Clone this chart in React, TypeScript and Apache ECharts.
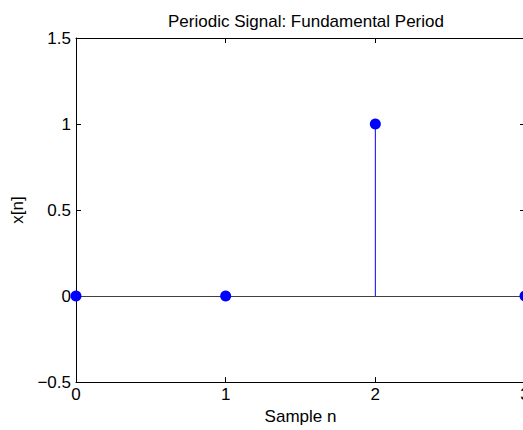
import React, { useEffect, useRef } from "react";
import * as echarts from "echarts";

const titleText = "Periodic Signal: Fundamental Period";
const xName = "Sample n";
const yName = "x[n]";
const samples = [0, 1, 2, 3];
const values = [0, 0, 1, 0];
const xRange = [0, 3];
const yRange = [-0.5, 1.5];
const yStep = 0.5;
const xStep = 1;

const FONT = "'Liberation Sans', Arial, Helvetica, sans-serif";

export default function App() {
  const ref = useRef<HTMLDivElement>(null);
  useEffect(() => {
    if (!ref.current) return;
    const chart = echarts.init(ref.current, null, { renderer: "svg" });
    const pts = samples.map((s, i) => [s, values[i]]);
    const axisCommon = {
      type: "value" as const,
      axisLine: { show: true, onZero: false, lineStyle: { color: "#000", width: 1 } },
      axisTick: { show: true, inside: true, length: 5, lineStyle: { color: "#000", width: 1 } },
      splitLine: { show: false },
    };
    chart.setOption({
      animation: false,
      backgroundColor: "#fff",
      textStyle: { fontFamily: FONT },
      title: {
        text: titleText,
        left: 301,
        top: 8,
        textAlign: "center",
        textStyle: { fontFamily: FONT, fontSize: 17, fontWeight: "normal", color: "#000" },
      },
      grid: { left: 76, right: 15, top: 38, bottom: 47, containLabel: false },
      xAxis: [
        {
          ...axisCommon,
          position: "bottom",
          min: xRange[0],
          max: xRange[1],
          interval: xStep,
          axisLabel: { color: "#000", fontSize: 17, fontFamily: FONT, margin: 4 },
          name: xName,
          nameLocation: "middle",
          nameGap: 24,
          nameTextStyle: { color: "#000", fontSize: 17, fontFamily: FONT },
        },
        {
          ...axisCommon,
          position: "top",
          min: xRange[0],
          max: xRange[1],
          interval: xStep,
          axisLabel: { show: false },
        },
      ],
      yAxis: [
        {
          ...axisCommon,
          position: "left",
          min: yRange[0],
          max: yRange[1],
          interval: yStep,
          axisLabel: {
            color: "#000",
            fontSize: 17,
            fontFamily: FONT,
            margin: 5,
            formatter: (v: number) => String(v).replace("-", "\u2212"),
          },
          name: yName,
          nameLocation: "middle",
          nameGap: 50,
          nameRotate: 90,
          nameTextStyle: { color: "#000", fontSize: 17, fontFamily: FONT },
        },
        {
          ...axisCommon,
          position: "right",
          min: yRange[0],
          max: yRange[1],
          interval: yStep,
          axisLabel: { show: false },
        },
      ],
      series: [
        {
          type: "bar",
          data: pts,
          barWidth: 1,
          itemStyle: { color: "#0000ff", opacity: 1 },
          z: 3,
          markLine: {
            silent: true,
            symbol: "none",
            label: { show: false },
            lineStyle: { color: "#404040", width: 1, type: "solid" },
            data: [{ yAxis: 0 }],
          },
        },
        {
          type: "scatter",
          data: pts,
          symbol: "circle",
          symbolSize: 11,
          clip: false,
          itemStyle: { color: "#0000ff", opacity: 1 },
          z: 5,
        },
      ],
    });
    return () => chart.dispose();
  }, []);
  return (
    <div style={{ position: "fixed", left: 0, top: 0, width: 523, height: 430, overflow: "hidden" }}>
      <div ref={ref} style={{ width: 540, height: 430 }} />
    </div>
  );
}
